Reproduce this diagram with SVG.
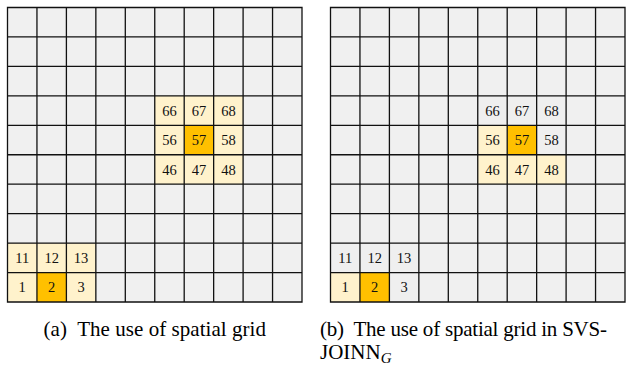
<svg xmlns="http://www.w3.org/2000/svg" xmlns:xlink="http://www.w3.org/1999/xlink" width="636" height="367" viewBox="0 0 636 367">
<style>
.bg{fill:#f0f0f0}
.y{fill:#fff2cc}
.o{fill:#ffc000}
.g{fill:#efefef}
.ln{fill:none;stroke:#111;stroke-width:1.3}
.n{font-family:"Liberation Serif","Times New Roman",serif;font-size:14.5px;fill:#111;text-anchor:middle}
.cap{font-family:"Liberation Serif","Times New Roman",serif;font-size:21px;fill:#000}
</style>
<defs>
<path id="lines" class="ln" d="M7.5 7.5H302V302H7.5Z M36.95 7.5V302 M66.4 7.5V302 M95.85 7.5V302 M125.3 7.5V302 M154.75 7.5V302 M184.2 7.5V302 M213.65 7.5V302 M243.1 7.5V302 M272.55 7.5V302 M7.5 36.95H302 M7.5 66.4H302 M7.5 95.85H302 M7.5 125.3H302 M7.5 154.75H302 M7.5 184.2H302 M7.5 213.65H302 M7.5 243.1H302 M7.5 272.55H302"/>
</defs>
<g id="grid-a">
<rect class="bg" x="7.5" y="7.5" width="294.5" height="294.5"/>
<rect class="y" x="154.75" y="95.85" width="88.35" height="88.35"/>
<rect class="o" x="184.2" y="125.3" width="29.45" height="29.45"/>
<rect class="y" x="7.5" y="243.1" width="88.35" height="58.9"/>
<rect class="o" x="36.95" y="272.55" width="29.45" height="29.45"/>
<use xlink:href="#lines"/>
<text class="n" x="169.5" y="115.6">66</text><text class="n" x="198.9" y="115.6">67</text><text class="n" x="228.4" y="115.6">68</text>
<text class="n" x="169.5" y="145">56</text><text class="n" x="198.9" y="145">57</text><text class="n" x="228.4" y="145">58</text>
<text class="n" x="169.5" y="174.5">46</text><text class="n" x="198.9" y="174.5">47</text><text class="n" x="228.4" y="174.5">48</text>
<text class="n" x="22.2" y="262.8">11</text><text class="n" x="51.7" y="262.8">12</text><text class="n" x="81.1" y="262.8">13</text>
<text class="n" x="22.2" y="292.3">1</text><text class="n" x="51.7" y="292.3">2</text><text class="n" x="81.1" y="292.3">3</text>
</g>
<g id="grid-b" transform="translate(323,0)">
<rect class="bg" x="7.5" y="7.5" width="294.5" height="294.5"/>
<rect class="g" x="154.75" y="95.85" width="88.35" height="29.45"/>
<rect class="y" x="154.75" y="125.3" width="29.45" height="29.45"/>
<rect class="o" x="184.2" y="125.3" width="29.45" height="29.45"/>
<rect class="g" x="213.65" y="125.3" width="29.45" height="29.45"/>
<rect class="y" x="154.75" y="154.75" width="88.35" height="29.45"/>
<rect class="g" x="7.5" y="243.1" width="88.35" height="29.45"/>
<rect class="y" x="7.5" y="272.55" width="29.45" height="29.45"/>
<rect class="o" x="36.95" y="272.55" width="29.45" height="29.45"/>
<rect class="g" x="66.4" y="272.55" width="29.45" height="29.45"/>
<use xlink:href="#lines"/>
<text class="n" x="169.5" y="115.6">66</text><text class="n" x="198.9" y="115.6">67</text><text class="n" x="228.4" y="115.6">68</text>
<text class="n" x="169.5" y="145">56</text><text class="n" x="198.9" y="145">57</text><text class="n" x="228.4" y="145">58</text>
<text class="n" x="169.5" y="174.5">46</text><text class="n" x="198.9" y="174.5">47</text><text class="n" x="228.4" y="174.5">48</text>
<text class="n" x="22.2" y="262.8">11</text><text class="n" x="51.7" y="262.8">12</text><text class="n" x="81.1" y="262.8">13</text>
<text class="n" x="22.2" y="292.3">1</text><text class="n" x="51.7" y="292.3">2</text><text class="n" x="81.1" y="292.3">3</text>
</g>
<g id="captions">
<text class="cap" x="43.5" y="336" textLength="222.5" lengthAdjust="spacing">(a)&#160; The use of spatial grid</text>
<text class="cap" x="320" y="336" textLength="287" lengthAdjust="spacing">(b)&#160; The use of spatial grid in SVS-</text>
<text class="cap" x="320" y="359">JOINN<tspan font-style="italic" font-size="15" dy="4">G</tspan></text>
</g>
</svg>
